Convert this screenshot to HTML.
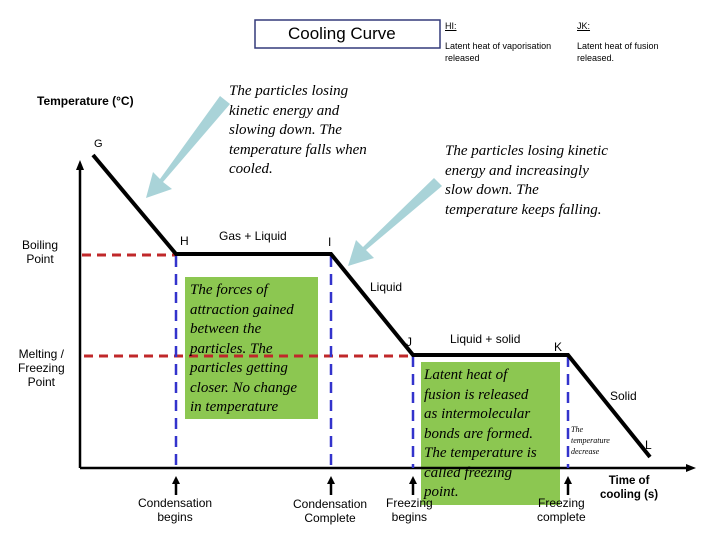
<!DOCTYPE html>
<html><head><style>
body{margin:0;width:720px;height:540px;background:#fff;position:relative;overflow:hidden;font-family:"Liberation Sans",sans-serif}
.t{position:absolute;white-space:nowrap;color:#000}
.s{font-size:12px;text-align:center;line-height:14px}
.ser{font-family:"Liberation Serif",serif;font-style:italic;font-size:15px;line-height:19.5px}
</style></head><body>
<svg width="720" height="540" style="position:absolute;left:0;top:0">
<rect x="255" y="20" width="185" height="28" fill="#fff" stroke="#333a7a" stroke-width="1.5"/>
<rect x="185" y="277" width="133" height="142" fill="#8cc751"/>
<rect x="421" y="362" width="139" height="143" fill="#8cc751"/>
<line x1="80" y1="468" x2="80" y2="168" stroke="#000" stroke-width="2.5"/>
<path d="M80,160 l-4,10 h8z" fill="#000"/>
<line x1="80" y1="468" x2="688" y2="468" stroke="#000" stroke-width="2.5"/>
<path d="M696,468 l-10,-4 v8z" fill="#000"/>
<g stroke="#c0282a" stroke-width="3" stroke-dasharray="9,6"><line x1="82" y1="255" x2="176" y2="255"/><line x1="84" y1="356" x2="412" y2="356"/></g>
<g stroke="#3333cc" stroke-width="2.5" stroke-dasharray="11,7"><line x1="176" y1="256" x2="176" y2="468"/><line x1="331" y1="256" x2="331" y2="468"/><line x1="413" y1="356" x2="413" y2="468"/><line x1="568" y1="356" x2="568" y2="468"/></g>
<polyline points="93,155 176,254 331,254 413,355 568,355 650,457" fill="none" stroke="#000" stroke-width="4"/>
<g stroke="#000" stroke-width="2.5"><line x1="176" y1="495" x2="176" y2="482"/><line x1="331" y1="495" x2="331" y2="482"/><line x1="413" y1="495" x2="413" y2="482"/><line x1="568" y1="495" x2="568" y2="482"/></g>
<g fill="#000"><path d="M176,476 l-4,8 h8z"/><path d="M331,476 l-4,8 h8z"/><path d="M413,476 l-4,8 h8z"/><path d="M568,476 l-4,8 h8z"/></g>
<g fill="#a9d3d8"><polygon points="220,96 230,104 163,182 172,189 146,198 153,172 160,179"/><polygon points="434,178 442,186 366,250 374,258 348,266 356,240 363,247"/></g>
</svg>
<div class="t" style="left:288px;top:24px;font-size:17px">Cooling Curve</div>
<div class="t" style="left:445px;top:21px;font-size:9px;text-decoration:underline">HI:</div>
<div class="t" style="left:577px;top:21px;font-size:9px;text-decoration:underline">JK:</div>
<div class="t" style="left:445px;top:40px;font-size:9px;line-height:12px">Latent heat of vaporisation<br>released</div>
<div class="t" style="left:577px;top:40px;font-size:9px;line-height:12px">Latent heat of fusion<br>released.</div>
<div class="t" style="left:37px;top:94px;font-size:12px;font-weight:bold">Temperature (°C)</div>
<div class="t ser" style="left:229px;top:82px">The particles losing<br>kinetic energy and<br>slowing down. The<br>temperature falls when<br>cooled.</div>
<div class="t ser" style="left:445px;top:142px">The particles losing kinetic<br>energy and increasingly<br>slow down. The<br>temperature keeps falling.</div>
<div class="t" style="left:94px;top:138px;font-size:11px">G</div>
<div class="t s" style="left:22px;top:238px">Boiling<br>Point</div>
<div class="t" style="left:180px;top:234px;font-size:12px">H</div>
<div class="t" style="left:219px;top:229px;font-size:12px">Gas + Liquid</div>
<div class="t" style="left:328px;top:235px;font-size:12px">I</div>
<div class="t" style="left:370px;top:280px;font-size:12px">Liquid</div>
<div class="t ser" style="left:190px;top:281px">The forces of<br>attraction gained<br>between the<br>particles. The<br>particles getting<br>closer. No change<br>in temperature</div>
<div class="t s" style="left:18px;top:347px">Melting /<br>Freezing<br>Point</div>
<div class="t" style="left:406px;top:335px;font-size:12px">J</div>
<div class="t" style="left:450px;top:332px;font-size:12px">Liquid + solid</div>
<div class="t" style="left:554px;top:340px;font-size:12px">K</div>
<div class="t ser" style="left:424px;top:366px">Latent heat of<br>fusion is released<br>as intermolecular<br>bonds are formed.<br>The temperature is<br>called freezing<br>point.</div>
<div class="t" style="left:610px;top:389px;font-size:12px">Solid</div>
<div class="t" style="left:571px;top:424px;font-family:'Liberation Serif',serif;font-style:italic;font-size:8px;line-height:11px">The<br>temperature<br>decrease</div>
<div class="t" style="left:645px;top:438px;font-size:12px">L</div>
<div class="t s" style="left:600px;top:474px;font-weight:bold;font-size:11.5px">Time of<br>cooling (s)</div>
<div class="t s" style="left:138px;top:496px">Condensation<br>begins</div>
<div class="t s" style="left:293px;top:497px">Condensation<br>Complete</div>
<div class="t s" style="left:386px;top:496px">Freezing<br>begins</div>
<div class="t s" style="left:537px;top:496px">Freezing<br>complete</div>
</body></html>
